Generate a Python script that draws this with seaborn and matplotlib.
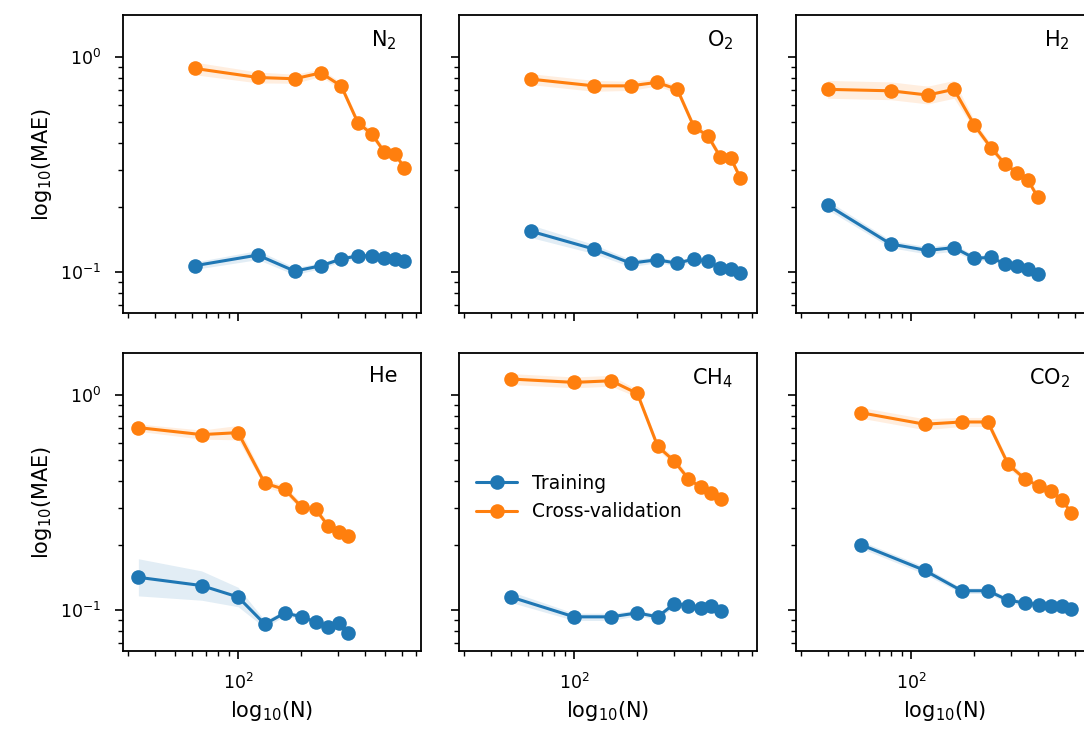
import numpy as np
import matplotlib
matplotlib.use("Agg")
import matplotlib.pyplot as plt
import seaborn as sns

# panel titles, same order as the grid (row by row)
gases = ["N$_2$", "O$_2$", "H$_2$", "He", "CH$_4$", "CO$_2$"]

# training set sizes N, per gas
n_n2 = [62, 124, 186, 248, 310, 372, 434, 496, 558, 620]
n_o2 = [62, 124, 186, 248, 310, 372, 434, 496, 558, 620]
n_h2 = [40, 80, 120, 160, 200, 240, 280, 320, 360, 400]
n_he = [33.5, 67, 100, 134, 167, 201, 234, 268, 301, 335]
n_ch4 = [50, 100, 150, 200, 250, 300, 350, 400, 450, 500]
n_co2 = [58, 116, 174, 232, 290, 348, 406, 464, 522, 580]

# MAE on the training set
train_n2 = [0.107, 0.120, 0.101, 0.107, 0.115, 0.119, 0.119, 0.116, 0.115, 0.112]
train_o2 = [0.155, 0.128, 0.110, 0.114, 0.110, 0.115, 0.112, 0.105, 0.103, 0.099]
train_h2 = [0.205, 0.135, 0.126, 0.130, 0.116, 0.117, 0.109, 0.107, 0.103, 0.098]
train_he = [0.142, 0.130, 0.115, 0.086, 0.097, 0.093, 0.088, 0.083, 0.087, 0.078]
train_ch4 = [0.115, 0.093, 0.093, 0.097, 0.093, 0.107, 0.105, 0.102, 0.105, 0.099]
train_co2 = [0.201, 0.153, 0.123, 0.123, 0.111, 0.108, 0.106, 0.105, 0.105, 0.101]

# MAE in cross-validation
cv_n2 = [0.886, 0.804, 0.793, 0.845, 0.733, 0.495, 0.438, 0.363, 0.354, 0.306]
cv_o2 = [0.790, 0.735, 0.735, 0.763, 0.708, 0.474, 0.430, 0.344, 0.338, 0.273]
cv_h2 = [0.708, 0.697, 0.666, 0.708, 0.483, 0.379, 0.318, 0.290, 0.268, 0.224]
cv_he = [0.706, 0.655, 0.669, 0.389, 0.364, 0.301, 0.294, 0.247, 0.230, 0.222]
cv_ch4 = [1.188, 1.146, 1.166, 1.018, 0.578, 0.493, 0.408, 0.373, 0.352, 0.329]
cv_co2 = [0.827, 0.732, 0.750, 0.750, 0.476, 0.408, 0.377, 0.357, 0.326, 0.283]

# relative half-width of the confidence bands
band_train = [
    [0.04, 0.05, 0.04, 0.03, 0.03, 0.03, 0.03, 0.03, 0.03, 0.03],
    [0.07, 0.05, 0.04, 0.03, 0.03, 0.03, 0.03, 0.03, 0.03, 0.03],
    [0.05, 0.04, 0.04, 0.04, 0.03, 0.03, 0.03, 0.03, 0.03, 0.03],
    [0.22, 0.17, 0.11, 0.04, 0.03, 0.03, 0.03, 0.03, 0.03, 0.03],
    [0.06, 0.04, 0.04, 0.03, 0.03, 0.03, 0.03, 0.03, 0.03, 0.03],
    [0.04, 0.04, 0.03, 0.03, 0.03, 0.03, 0.03, 0.03, 0.03, 0.03],
]
band_cv = [
    [0.07, 0.06, 0.05, 0.04, 0.04, 0.04, 0.04, 0.04, 0.04, 0.04],
    [0.06, 0.06, 0.05, 0.04, 0.04, 0.04, 0.04, 0.04, 0.04, 0.04],
    [0.10, 0.10, 0.10, 0.10, 0.05, 0.04, 0.04, 0.04, 0.04, 0.04],
    [0.04, 0.05, 0.08, 0.04, 0.04, 0.04, 0.04, 0.04, 0.04, 0.04],
    [0.06, 0.06, 0.06, 0.04, 0.04, 0.04, 0.04, 0.04, 0.04, 0.04],
    [0.06, 0.06, 0.05, 0.05, 0.04, 0.04, 0.04, 0.04, 0.04, 0.04],
]

sizes = [n_n2, n_o2, n_h2, n_he, n_ch4, n_co2]
trains = [train_n2, train_o2, train_h2, train_he, train_ch4, train_co2]
cvs = [cv_n2, cv_o2, cv_h2, cv_he, cv_ch4, cv_co2]

sns.set_theme(style="ticks")
plt.rcParams['font.family'] = ['DejaVu Sans']
plt.rcParams['mathtext.fontset'] = 'dejavusans'
plt.rcParams['text.color'] = 'black'
plt.rcParams['axes.labelcolor'] = 'black'
plt.rcParams['xtick.color'] = 'black'
plt.rcParams['ytick.color'] = 'black'

blue = "#1f77b4"
orange = "#ff7f0e"

fig, axes = plt.subplots(2, 3, sharex=True, sharey=True, figsize=(10.84, 7.36), dpi=100)
fig.patch.set_facecolor("white")

# axes placed by hand: the right column runs past the figure edge
W, H = 1084, 736
lefts = [123, 459, 796]
tops = [15, 353]
size = 298

for i, ax in enumerate(axes.flat):
    r, c = divmod(i, 3)
    ax.set_position([lefts[c] / W, (H - tops[r] - size) / H, size / W, size / H])

    n = np.array(sizes[i])
    tr = np.array(trains[i])
    cv = np.array(cvs[i])
    btr = np.array(band_train[i])
    bcv = np.array(band_cv[i])

    ax.fill_between(n, tr / (1 + btr), tr * (1 + btr), color=blue, alpha=0.13, lw=0)
    ax.fill_between(n, cv / (1 + bcv), cv * (1 + bcv), color=orange, alpha=0.13, lw=0)
    sns.lineplot(x=n, y=tr, ax=ax, color=blue, marker="o", markersize=10.5,
                 markeredgewidth=0, linewidth=2.2, label="Training", legend=False)
    sns.lineplot(x=n, y=cv, ax=ax, color=orange, marker="o", markersize=10.5,
                 markeredgewidth=0, linewidth=2.2, label="Cross-validation", legend=False)

    ax.set_xscale("log")
    ax.set_yscale("log")
    ax.set_xlim(28.3, 743)
    ax.set_ylim(0.0645, 1.57)

    ax.text(0.92, 0.955, gases[i], transform=ax.transAxes, ha="right", va="top", fontsize=15)

    for s in ax.spines.values():
        s.set_linewidth(1.3)
        s.set_color("black")
    ax.tick_params(which="major", length=6, width=1.2, pad=10, labelsize=12.5)
    ax.tick_params(which="minor", length=3.5, width=1.0)

    ax.set_xlabel("log$_{10}$(N)" if r == 1 else "", fontsize=15)
    ax.set_ylabel("log$_{10}$(MAE)" if c == 0 else "", fontsize=15)

axes[1, 1].legend(loc="center left", bbox_to_anchor=(0.0, 0.515), frameon=False,
                  fontsize=13.5, handlelength=2.2)

fig.savefig("out.png", dpi=100)
